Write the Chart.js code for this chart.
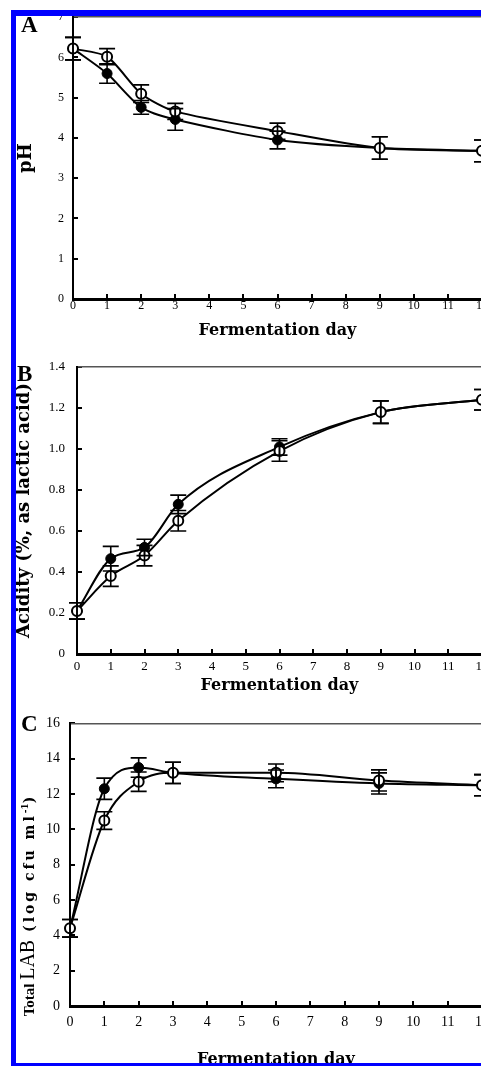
<!DOCTYPE html>
<html><head><meta charset="utf-8">
<script src="https://cdn.jsdelivr.net/npm/chart.js@4"></script>
<style>
html,body{margin:0;padding:0;background:#fff;overflow:hidden;width:481px;height:1066px;position:relative;}
.cv{position:absolute;left:0;display:block;}
.bar{position:absolute;background:#0000ff;z-index:10;}
.lbl{position:absolute;font-family:"Liberation Serif",serif;font-weight:bold;font-size:23px;line-height:22px;color:#000;z-index:5;}
#ytC{position:absolute;left:27px;top:905px;transform:translate(-50%,-50%) rotate(-90deg);white-space:nowrap;color:#000;z-index:5;line-height:1;}
#ytC .t1{font-family:"Liberation Serif",serif;font-weight:bold;font-size:15px;}
#ytC .t2{font-family:"Liberation Serif",serif;font-weight:normal;font-size:20px;}
#ytC .t3{font-family:"DejaVu Serif",serif;font-weight:bold;font-size:14px;letter-spacing:3px;}
#ytC sup{font-size:9px;letter-spacing:0;}
</style></head><body>
<canvas id="cA" class="cv" width="495" height="346" style="top:-4px"></canvas>
<canvas id="cB" class="cv" width="499" height="355" style="top:342px"></canvas>
<canvas id="cC" class="cv" width="502" height="369" style="top:700px"></canvas>
<div class="lbl" style="left:21px;top:14px">A</div>
<div class="lbl" style="left:17px;top:363px">B</div>
<div class="lbl" style="left:21px;top:713px">C</div>
<div id="ytC"><span class="t1">Total </span><span class="t2">LAB</span><span class="t3"> (log cfu ml<sup>-1</sup>)</span></div>
<div class="bar" style="left:11px;top:10px;width:500px;height:6px"></div>
<div class="bar" style="left:11px;top:10px;width:5px;height:1060px"></div>
<div class="bar" style="left:11px;top:1063px;width:500px;height:6px"></div>
<script>
// ---- data ----
const days = [0, 1, 2, 3, 6, 9, 12];
const xTickLabels = ['0','1','2','3','4','5','6','7','8','9','10','11','12'];

const phOpen        = [6.22, 6.02, 5.10, 4.66, 4.17, 3.75, 3.68];
const phOpenErr     = [0.28, 0.20, 0.22, 0.20, 0.20, 0.28, 0.27];
const phFilled      = [6.22, 5.60, 4.76, 4.46, 3.95, 3.75, 3.68];
const phFilledErr   = [0.28, 0.24, 0.17, 0.27, 0.22, 0.28, 0.27];
const phTicks       = ['0','1','2','3','4','5','6','7'];

const acOpen        = [0.21, 0.38, 0.48, 0.65, 0.99, 1.18, 1.24];
const acOpenErr     = [0.04, 0.05, 0.05, 0.05, 0.05, 0.055, 0.05];
const acFilled      = [0.21, 0.465, 0.52, 0.73, 1.01, 1.18, 1.24];
const acFilledErr   = [0.04, 0.06, 0.04, 0.045, 0.04, 0.055, 0.05];
const acTicks       = ['0','0.2','0.4','0.6','0.8','1.0','1.2','1.4'];

const labOpen       = [4.4, 10.5, 12.7, 13.2, 13.2, 12.77, 12.5];
const labOpenErr    = [0.5, 0.5, 0.55, 0.6, 0.5, 0.6, 0.6];
const labFilled     = [4.4, 12.3, 13.5, 13.2, 12.86, 12.6, 12.5];
const labFilledErr  = [0.5, 0.6, 0.55, 0.6, 0.5, 0.6, 0.6];
const labTicks      = ['0','2','4','6','8','10','12','14','16'];

// ---- helpers ----
const toPts = vals => days.map((d, i) => ({x: d, y: vals[i]}));

const errorBars = {
  id: 'errorBars',
  afterDatasetsDraw(chart) {
    const {ctx} = chart;
    const xs = chart.scales.x, ys = chart.scales.y;
    ctx.save();
    ctx.strokeStyle = '#000';
    ctx.lineWidth = 1.6;
    chart.data.datasets.forEach(ds => {
      if (!ds.errors) return;
      ds.data.forEach((p, i) => {
        const e = ds.errors[i];
        const px = xs.getPixelForValue(p.x);
        const t = ys.getPixelForValue(p.y + e);
        const b = ys.getPixelForValue(p.y - e);
        ctx.beginPath();
        ctx.moveTo(px, t); ctx.lineTo(px, b);
        ctx.moveTo(px - 8, t); ctx.lineTo(px + 8, t);
        ctx.moveTo(px - 8, b); ctx.lineTo(px + 8, b);
        ctx.stroke();
      });
    });
    ctx.restore();
  }
};

function series(openVals, openErr, filledVals, filledErr, tension, mono) {
  const base = {borderColor: '#000', borderWidth: 2, pointRadius: 5, tension: tension, fill: false, clip: false,
                cubicInterpolationMode: mono ? 'monotone' : 'default'};
  return [
    Object.assign({label: 'open', data: toPts(openVals), errors: openErr,
      pointBorderWidth: 2, pointBackgroundColor: '#fff', pointBorderColor: '#000'}, base),
    Object.assign({label: 'filled', data: toPts(filledVals), errors: filledErr,
      pointBorderWidth: 1, pointBackgroundColor: '#000', pointBorderColor: '#000'}, base)
  ];
}

function makeChart(id, o) {
  const tickFont = {family: 'Liberation Serif', size: o.tickSize};
  const xTitleFont = {family: 'DejaVu Serif', weight: 'bold', size: 16};
  const yTitleFont = {family: 'DejaVu Serif', weight: 'bold', size: o.ytSize || 17};
  return new Chart(document.getElementById(id), {
    type: 'line',
    data: {datasets: o.datasets},
    plugins: [errorBars],
    options: {
      responsive: false,
      animation: false,
      events: [],
      layout: {padding: {left: o.pl, right: o.pr, top: o.pt, bottom: o.pb}},
      plugins: {legend: {display: false}, tooltip: {enabled: false}},
      scales: {
        x: {
          type: 'linear', position: 'bottom', min: 0, max: 12,
          afterFit: s => { s.height = o.hx; },
          ticks: {stepSize: 1, autoSkip: false, maxRotation: 0, padding: o.xpad, color: '#000', font: tickFont,
                  callback: v => xTickLabels[Math.round(v)]},
          grid: {drawOnChartArea: false, drawTicks: true, tickLength: -5, color: '#000', lineWidth: 2},
          border: {display: true, color: '#000', width: 3},
          title: {display: true, text: 'Fermentation day', color: '#000', font: xTitleFont, padding: {top: 0, bottom: 0}}
        },
        x2: {
          type: 'linear', position: 'top', min: 0, max: 12,
          afterFit: s => { s.height = 0; },
          ticks: {display: false},
          grid: {drawOnChartArea: false, drawTicks: false},
          border: {display: true, color: '#555', width: 1.5}
        },
        y: {
          type: 'linear', position: 'left', min: 0, max: o.ymax,
          afterFit: s => { s.width = o.wy; },
          ticks: {stepSize: o.step, autoSkip: false, padding: o.ypad, color: '#000', font: tickFont,
                  callback: v => o.yLabels[Math.round(v / o.step)]},
          grid: {drawOnChartArea: false, drawTicks: true, tickLength: -5, color: '#000', lineWidth: 2},
          border: {display: true, color: '#000', width: 2},
          title: {display: !!o.ytitle, text: o.ytitle || '', color: '#000', font: yTitleFont, padding: {top: o.ytpad, bottom: 0}}
        }
      }
    }
  });
}

makeChart('cA', {
  datasets: series(phOpen, phOpenErr, phFilled, phFilledErr, 0.25, false),
  pl: 8, pr: 13, pt: 15, pb: 2, hx: 41, wy: 65, ymax: 7, step: 1, yLabels: phTicks,
  tickSize: 12, xpad: 5, ypad: 14, ytitle: 'pH', ytSize: 18, ytpad: 8
});
makeChart('cB', {
  datasets: series(acOpen, acOpenErr, acFilled, acFilledErr, 0.4, true),
  pl: 7, pr: 17, pt: 25, pb: 2, hx: 41, wy: 70, ymax: 1.4, step: 0.2, yLabels: acTicks,
  tickSize: 13, xpad: 10, ypad: 17, ytitle: 'Acidity (%, as lactic acid)', ytSize: 18, ytpad: 7
});
makeChart('cC', {
  datasets: series(labOpen, labOpenErr, labFilled, labFilledErr, 0.4, true),
  pl: 8, pr: 20, pt: 23, pb: 0, hx: 63, wy: 62, ymax: 16, step: 2, yLabels: labTicks,
  tickSize: 14, xpad: 13, ypad: 15, ytitle: '', ytpad: 0
});
</script>
</body></html>
